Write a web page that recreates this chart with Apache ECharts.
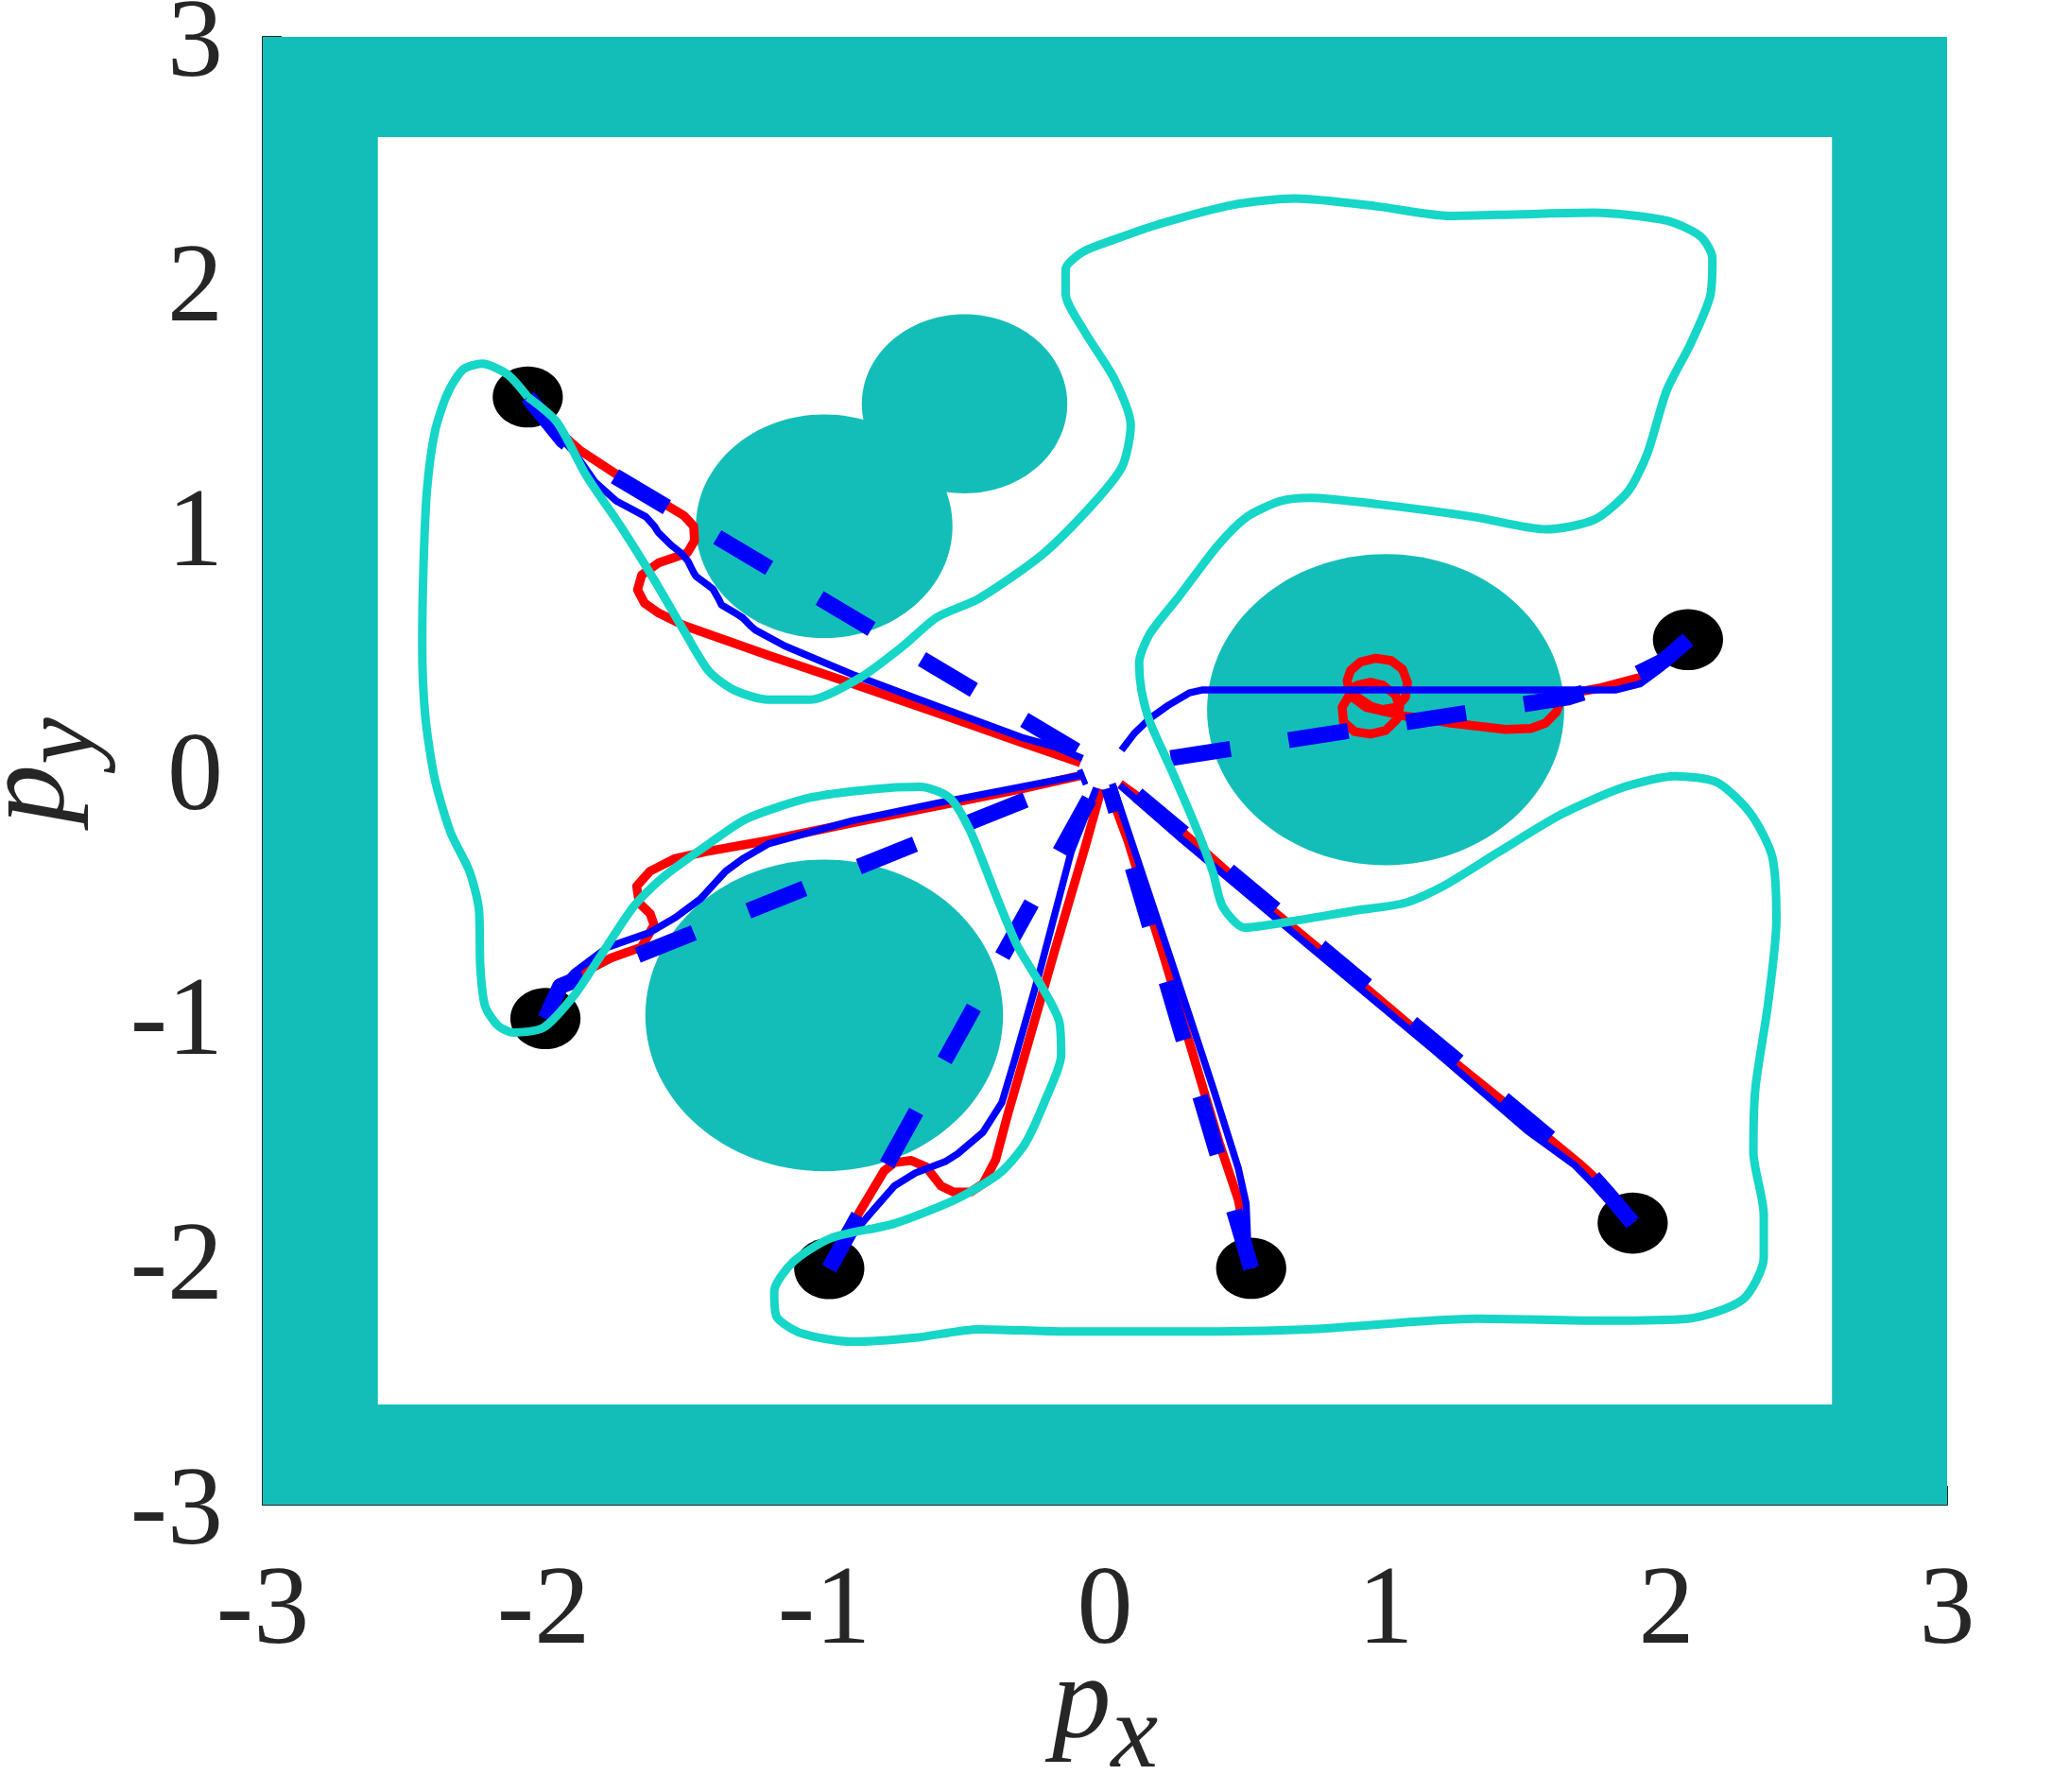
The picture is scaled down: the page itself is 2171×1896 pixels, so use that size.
<!DOCTYPE html>
<html>
<head>
<meta charset="utf-8">
<script src="https://cdn.jsdelivr.net/npm/echarts@6.0.0/dist/echarts.min.js"></script>
<style>
html, body { margin: 0; padding: 0; background: #fff; }
#chart { width: 2171px; height: 1896px; }
</style>
</head>
<body>
<div id="chart"></div>
<script>
// axis ticks
const ticks = [-3, -2, -1, 0, 1, 2, 3];

// walls and obstacles
const wallOuter = [[-3, -3], [3, -3], [3, 3], [-3, 3]];
const wallInner = [[-2.59, -2.59], [2.59, -2.59], [2.59, 2.59], [-2.59, 2.59]];
const obstacleX = [-1.0, 1.0, -1.0, -0.5];
const obstacleY = [-1.0, 0.25, 1.0, 1.5];
const obstacleR = [0.637, 0.636, 0.457, 0.366];

// start points of the six agents
const startX = [-2.056, 2.077, -1.993, -0.982, 0.521, 1.88];
const startY = [1.528, 0.536, -1.013, -2.035, -2.034, -1.849];
const dotR = 0.125;

// red trajectories
const red1 = [[-2.056,1.528],[-1.96,1.40],[-1.87,1.31],[-1.68,1.167],[-1.50,1.043],[-1.465,1.0],[-1.462,0.94],[-1.488,0.89],[-1.59,0.85],[-1.65,0.80],[-1.665,0.74],[-1.64,0.685],[-1.59,0.645],[-1.50,0.594],[-1.2,0.472],[-0.9,0.356],[-0.6,0.238],[-0.3,0.117],[-0.087,0.033]];
const red2 = [[2.077,0.536],[2.03,0.49],[1.983,0.446],[1.908,0.382],[1.758,0.337],[1.668,0.318],[1.623,0.286],[1.608,0.24],[1.57,0.195],[1.517,0.173],[1.427,0.169],[1.232,0.195],[1.051,0.227],[0.931,0.259],[0.871,0.31],[0.845,0.26],[0.85,0.2],[0.89,0.16],[0.946,0.15],[1.0,0.165],[1.04,0.21],[1.05,0.26],[1.035,0.31],[0.99,0.35],[0.946,0.362],[0.9,0.35],[0.868,0.33],[0.863,0.37],[0.875,0.41],[0.91,0.445],[0.965,0.46],[1.02,0.45],[1.06,0.415],[1.078,0.36],[1.07,0.30],[1.04,0.26],[0.99,0.25],[0.95,0.262],[0.9,0.3],[0.88,0.34]];
const red3 = [[-1.993,-1.013],[-1.93,-0.87],[-1.847,-0.817],[-1.759,-0.765],[-1.651,-0.721],[-1.606,-0.63],[-1.62,-0.584],[-1.659,-0.541],[-1.668,-0.472],[-1.621,-0.411],[-1.534,-0.36],[-1.422,-0.331],[-1.2,-0.285],[-0.9,-0.213],[-0.6,-0.144],[-0.3,-0.075],[-0.08,-0.018]];
const red4 = [[-0.982,-2.035],[-0.877,-1.809],[-0.787,-1.636],[-0.75,-1.602],[-0.69,-1.593],[-0.637,-1.619],[-0.584,-1.697],[-0.539,-1.722],[-0.479,-1.722],[-0.434,-1.688],[-0.389,-1.59],[-0.345,-1.40],[-0.29,-1.18],[-0.18,-0.74],[-0.07,-0.31],[-0.013,-0.075]];
const red5 = [[0.521,-2.034],[0.50,-1.90],[0.475,-1.753],[0.407,-1.52],[0.217,-0.786],[0.082,-0.286],[0.015,-0.079]];
const red6 = [[1.88,-1.849],[1.80,-1.72],[1.686,-1.602],[1.52,-1.446],[1.175,-1.127],[0.874,-0.834],[0.528,-0.506],[0.273,-0.247],[0.205,-0.179],[0.054,-0.054]];

// thin blue trajectories
const blue1 = [[-2.056,1.528],[-1.982,1.412],[-1.892,1.304],[-1.816,1.18],[-1.741,1.103],[-1.636,1.039],[-1.605,1.0],[-1.591,0.974],[-1.546,0.923],[-1.51,0.89],[-1.486,0.858],[-1.465,0.81],[-1.456,0.794],[-1.41,0.755],[-1.396,0.742],[-1.375,0.70],[-1.366,0.678],[-1.31,0.64],[-1.291,0.626],[-1.26,0.59],[-1.245,0.575],[-1.14,0.51],[-0.9,0.394],[-0.599,0.265],[-0.298,0.137],[-0.178,0.098],[-0.08,0.05]];
const blue2 = [[2.077,0.536],[2.03,0.47],[1.983,0.42],[1.908,0.356],[1.818,0.33],[0.345,0.33],[0.3,0.318],[0.225,0.267],[0.16,0.214],[0.104,0.152],[0.059,0.084]];
const blue3 = [[-1.993,-1.013],[-1.95,-0.90],[-1.892,-0.825],[-1.771,-0.721],[-1.621,-0.661],[-1.53,-0.60],[-1.441,-0.524],[-1.39,-0.46],[-1.351,-0.411],[-1.291,-0.36],[-1.2,-0.299],[-0.9,-0.204],[-0.6,-0.133],[-0.3,-0.066],[-0.075,-0.016]];
const blue4 = [[-0.982,-2.035],[-0.93,-1.938],[-0.84,-1.815],[-0.75,-1.697],[-0.675,-1.644],[-0.569,-1.598],[-0.524,-1.565],[-0.434,-1.477],[-0.367,-1.356],[-0.322,-1.183],[-0.232,-0.82],[-0.12,-0.33],[-0.03,-0.07]];
const blue5 = [[0.521,-2.034],[0.508,-1.908],[0.503,-1.769],[0.475,-1.624],[0.385,-1.296],[0.239,-0.786],[0.104,-0.321],[0.026,-0.053]];
const blue6 = [[1.88,-1.849],[1.776,-1.731],[1.671,-1.61],[1.505,-1.472],[1.175,-1.145],[0.724,-0.713],[0.273,-0.28],[0.054,-0.06]];

// thick dashed blue trajectories
const dash1 = [[-2.056,1.528],[-1.93,1.35],[-1.82,1.255],[-0.075,0.063]];
const dash2 = [[2.077,0.536],[1.99,0.45],[1.85,0.37],[1.65,0.30],[0.065,0.022]];
const dash3 = [[-1.993,-1.013],[-1.94,-0.88],[-0.07,-0.022]];
const dash4 = [[-0.982,-2.035],[-0.03,-0.062]];
const dash5 = [[0.521,-2.034],[0.015,-0.07]];
const dash6 = [[1.88,-1.849],[1.80,-1.74],[1.70,-1.61],[0.06,-0.045]];

// cyan loop
const cyanPath = [[-2.056,1.528],[-1.952,1.425],[-1.847,1.206],[-1.726,1.001],[-1.606,0.781],[-1.501,0.575],[-1.411,0.407],[-1.321,0.330],[-1.2,0.291],[-1.05,0.291],[-0.87,0.382],[-0.719,0.51],[-0.599,0.627],[-0.449,0.704],[-0.223,0.884],[-0.043,1.09],[0.062,1.245],[0.092,1.412],[0.032,1.605],[-0.074,1.798],[-0.14,1.95],[-0.14,2.05],[-0.08,2.12],[0.03,2.17],[0.197,2.236],[0.455,2.313],[0.678,2.339],[0.970,2.307],[1.228,2.268],[1.486,2.275],[1.743,2.281],[2.001,2.249],[2.121,2.185],[2.164,2.095],[2.156,1.94],[2.087,1.747],[2.001,1.554],[1.932,1.296],[1.863,1.141],[1.743,1.026],[1.571,0.987],[1.314,1.038],[0.97,1.09],[0.73,1.116],[0.627,1.103],[0.506,1.038],[0.403,0.922],[0.266,0.716],[0.16,0.56],[0.122,0.44],[0.13,0.33],[0.16,0.20],[0.239,-0.002],[0.329,-0.244],[0.385,-0.416],[0.419,-0.554],[0.497,-0.641],[0.666,-0.615],[0.89,-0.572],[1.07,-0.54],[1.205,-0.472],[1.4,-0.334],[1.626,-0.178],[1.851,-0.066],[2.031,-0.022],[2.182,-0.048],[2.302,-0.178],[2.377,-0.351],[2.392,-0.61],[2.362,-0.955],[2.317,-1.3],[2.31,-1.558],[2.347,-1.815],[2.347,-1.99],[2.272,-2.162],[2.076,-2.24],[1.776,-2.248],[1.325,-2.24],[0.724,-2.283],[0.273,-2.292],[-0.148,-2.292],[-0.449,-2.283],[-0.674,-2.317],[-0.9,-2.334],[-1.08,-2.3],[-1.17,-2.231],[-1.178,-2.128],[-1.11,-2.007],[-0.975,-1.91],[-0.75,-1.851],[-0.524,-1.748],[-0.374,-1.644],[-0.284,-1.524],[-0.208,-1.334],[-0.156,-1.162],[-0.163,-1.024],[-0.223,-0.886],[-0.313,-0.713],[-0.389,-0.506],[-0.479,-0.248],[-0.554,-0.11],[-0.659,-0.066],[-0.825,-0.075],[-1.05,-0.11],[-1.276,-0.196],[-1.411,-0.299],[-1.576,-0.437],[-1.681,-0.558],[-1.801,-0.765],[-1.892,-0.92],[-2.0,-1.05],[-2.107,-1.07],[-2.163,-1.041],[-2.208,-0.962],[-2.225,-0.804],[-2.23,-0.567],[-2.264,-0.41],[-2.331,-0.252],[-2.387,-0.035],[-2.421,0.222],[-2.432,0.517],[-2.427,0.852],[-2.415,1.148],[-2.387,1.385],[-2.342,1.542],[-2.286,1.641],[-2.219,1.664],[-2.129,1.621],[-2.056,1.528]];

const teal = '#14BEB8';
const cyan = '#15D6C7';
const textColor = '#262626';
const serif = '"Liberation Serif", "Times New Roman", "DejaVu Serif", serif';

const chart = echarts.init(document.getElementById('chart'));

function polygonSeries(points, fill) {
    return {
        type: 'custom',
        silent: true,
        data: [0],
        z: 2,
        renderItem: function (params, api) {
            return {
                type: 'polygon',
                shape: { points: points.map(p => api.coord(p)) },
                style: { fill: fill }
            };
        }
    };
}

function ellipseSeries(rows, fill) {
    return {
        type: 'custom',
        silent: true,
        data: rows,
        z: 2,
        renderItem: function (params, api) {
            const c = api.coord([api.value(0), api.value(1)]);
            const s = api.size([api.value(2), api.value(2)]);
            return {
                type: 'ellipse',
                shape: { cx: c[0], cy: c[1], rx: s[0], ry: s[1] },
                style: { fill: fill }
            };
        }
    };
}

function lineSeries(data, color, width, type, smooth) {
    return {
        type: 'line',
        data: data,
        symbol: 'none',
        silent: true,
        smooth: smooth || false,
        z: 2,
        lineStyle: { color: color, width: width, type: type || 'solid', cap: 'butt', join: 'round' }
    };
}

const obstacles = obstacleX.map((x, i) => [x, obstacleY[i], obstacleR[i]]);
const dots = startX.map((x, i) => [x, startY[i], dotR]);

const series = [
    polygonSeries(wallOuter, teal),
    polygonSeries(wallInner, '#ffffff'),
    ellipseSeries(obstacles, teal)
];
[red1, red2, red3, red4, red5, red6].forEach(d => series.push(lineSeries(d, '#FF0000', 9.5)));
[blue1, blue2, blue3, blue4, blue5, blue6].forEach(d => series.push(lineSeries(d, '#0000FF', 7.5)));
[dash1, dash2, dash3, dash4, dash5, dash6].forEach(d => series.push(lineSeries(d, '#0000FF', 17, [64, 62])));
series.push(lineSeries(cyanPath, cyan, 9, 'solid', 0.25));
series.push(ellipseSeries(dots, '#000000'));

const labelStyle = { fontFamily: serif, fontSize: 118, color: textColor };
const nameRich = {
    p: { fontFamily: serif, fontStyle: 'italic', fontSize: 125, lineHeight: 125, color: textColor, verticalAlign: 'top' },
    s: { fontFamily: serif, fontStyle: 'italic', fontSize: 112, lineHeight: 112, color: textColor, verticalAlign: 'top', padding: [42, 0, 0, 0] }
};

chart.setOption({
    animation: false,
    backgroundColor: '#ffffff',
    grid: { left: 278, right: 111, top: 39, bottom: 304, outerBoundsMode: 'none', containLabel: false },
    xAxis: {
        type: 'value',
        min: ticks[0], max: ticks[ticks.length - 1], interval: 1,
        name: '{p|p}{s|x}',
        nameLocation: 'middle',
        nameGap: 150,
        nameMoveOverlap: false,
        nameTextStyle: { rich: nameRich },
        axisLine: { show: true, onZero: false, lineStyle: { color: textColor, width: 2 } },
        axisTick: { show: true, inside: true, length: 20, lineStyle: { color: textColor, width: 2 } },
        axisLabel: Object.assign({ margin: 56, showMinLabel: true, showMaxLabel: true }, labelStyle),
        splitLine: { show: false }
    },
    yAxis: {
        type: 'value',
        min: ticks[0], max: ticks[ticks.length - 1], interval: 1,
        name: '{p|p}{s|y}',
        nameLocation: 'middle',
        nameGap: 182,
        nameMoveOverlap: false,
        nameTextStyle: { rich: nameRich },
        axisLine: { show: true, onZero: false, lineStyle: { color: textColor, width: 2 } },
        axisTick: { show: true, inside: true, length: 20, lineStyle: { color: textColor, width: 2 } },
        axisLabel: Object.assign({ margin: 42, verticalAlign: 'top', lineHeight: 20, showMinLabel: true, showMaxLabel: true }, labelStyle),
        splitLine: { show: false }
    },
    series: series
});
</script>
</body>
</html>
